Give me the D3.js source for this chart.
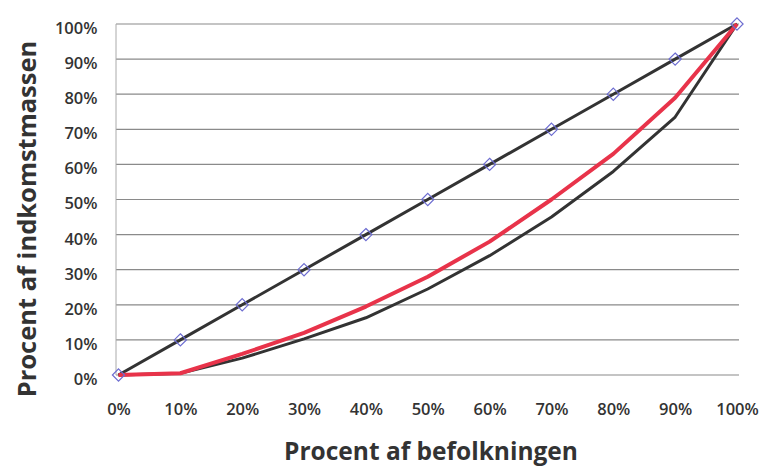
<!DOCTYPE html>
<html>
<head>
<meta charset="utf-8">
<script src="https://cdn.jsdelivr.net/npm/d3@7"></script>
<style>
  html, body { margin: 0; padding: 0; background: #fff; }
  svg { display: block; }
</style>
</head>
<body>
<svg id="chart" width="771" height="473"></svg>
<script>
// Population share (x) and cumulative income share (y), in percent
const populationShare = [0, 10, 20, 30, 40, 50, 60, 70, 80, 90, 100];
const equalityLine   = [0, 10, 20, 30, 40, 50, 60, 70, 80, 90, 100];
const lorenzRed      = [0, 0.5, 6, 12, 19.5, 28, 38, 50, 63, 79, 100];
const lorenzDark     = [0, 0.5, 4.8, 10.3, 16.3, 24.5, 34, 45, 58, 73.5, 100];
const xTickValues = [0, 10, 20, 30, 40, 50, 60, 70, 80, 90, 100];
const yTickValues = [0, 10, 20, 30, 40, 50, 60, 70, 80, 90, 100];
const xTitle = "Procent af befolkningen";
const yTitle = "Procent af indkomstmassen";

const svg = d3.select("#chart");
const font = "'Open Sans', Lato, sans-serif";

const x = d3.scaleLinear().domain([0, 100]).range([118.5, 737]);
const y = d3.scaleLinear().domain([0, 100]).range([375, 24]);

// Horizontal gridlines
svg.append("g")
  .selectAll("line")
  .data(yTickValues)
  .join("line")
  .attr("x1", 116).attr("x2", 739)
  .attr("y1", d => y(d)).attr("y2", d => y(d))
  .attr("stroke", "#8a8a8a").attr("stroke-width", 1.2);

// Left axis line
svg.append("line")
  .attr("x1", 116).attr("x2", 116)
  .attr("y1", y(100)).attr("y2", y(0))
  .attr("stroke", "#aaa").attr("stroke-width", 1);

// Y tick labels
const yAxis = d3.axisLeft(y).tickValues(yTickValues).tickFormat(d => d + "%").tickSize(0).tickPadding(0);
const gy = svg.append("g").attr("transform", "translate(97.5,3.5)").call(yAxis);
gy.select(".domain").remove();
gy.selectAll("text")
  .attr("font-family", font).attr("font-size", 16.5).attr("font-weight", 600)
  .attr("fill", "#333").attr("dy", "0.36em");

// X tick labels
const xAxis = d3.axisBottom(x).tickValues(xTickValues).tickFormat(d => d + "%").tickSize(0).tickPadding(0);
const gx = svg.append("g").attr("transform", "translate(0,403)").call(xAxis);
gx.select(".domain").remove();
gx.selectAll("text")
  .attr("font-family", font).attr("font-size", 16.5).attr("font-weight", 600)
  .attr("fill", "#333").attr("dy", "0.72em");

// Axis titles
svg.append("text")
  .attr("x", 431).attr("y", 460)
  .attr("text-anchor", "middle")
  .attr("font-family", font).attr("font-weight", "bold").attr("font-size", 24.5)
  .attr("fill", "#333")
  .text(xTitle);

svg.append("text")
  .attr("transform", "translate(36,219) rotate(-90)")
  .attr("text-anchor", "middle")
  .attr("font-family", font).attr("font-weight", "bold").attr("font-size", 25.5)
  .attr("fill", "#333")
  .text(yTitle);

const line = d3.line()
  .x((d, i) => x(populationShare[i]))
  .y(d => y(d));

// Line of equality
svg.append("path")
  .datum(equalityLine)
  .attr("d", line)
  .attr("fill", "none").attr("stroke", "#333").attr("stroke-width", 3)
  .attr("stroke-linejoin", "round");

// Lorenz curves
svg.append("path")
  .datum(lorenzDark)
  .attr("d", line)
  .attr("fill", "none").attr("stroke", "#333").attr("stroke-width", 3)
  .attr("stroke-linejoin", "round");

svg.append("path")
  .datum(lorenzRed)
  .attr("d", line)
  .attr("fill", "none").attr("stroke", "#e8334a").attr("stroke-width", 4)
  .attr("stroke-linejoin", "round");

// Diamond markers on the equality line
const diamond = d3.symbol().type(d3.symbolDiamond2).size(95);
svg.append("g")
  .selectAll("path")
  .data(equalityLine)
  .join("path")
  .attr("d", diamond)
  .attr("transform", (d, i) => `translate(${x(populationShare[i])},${y(d)})`)
  .attr("fill", "none")
  .attr("stroke", "#6c6cd0").attr("stroke-width", 1.2);
</script>
</body>
</html>
